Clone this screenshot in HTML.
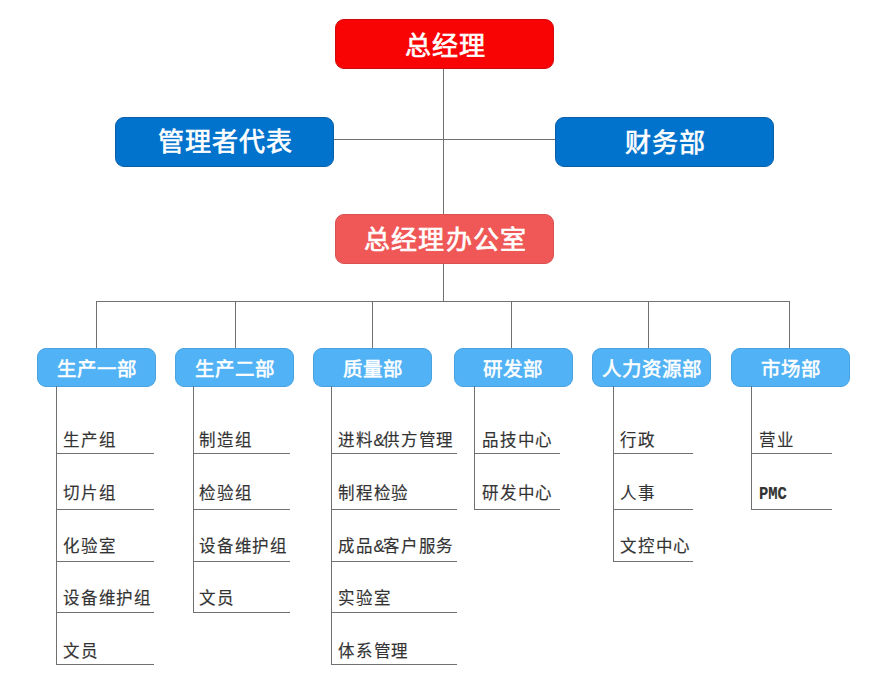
<!DOCTYPE html>
<html lang="zh-CN"><head><meta charset="utf-8">
<style>
html,body{margin:0;padding:0;background:#fff;}
body{width:880px;height:686px;position:relative;overflow:hidden;font-family:"Liberation Sans",sans-serif;}
.l{position:absolute;background:#707070;}
.hb{position:absolute;width:219px;height:49.5px;border-radius:9px;box-sizing:border-box;border:1px solid;color:#fff;font-size:26px;letter-spacing:1.2px;text-indent:2.4px;line-height:47.5px;text-align:center;white-space:nowrap;-webkit-text-stroke:0.65px #fff;}
.hb span,.db span{position:relative;}
.red{background:#f80404;border-color:#d00a0a;}
.blue{background:#0273cc;border-color:#0a5ea8;}
.pink{background:#f05858;border-color:#d85050;}
.db{position:absolute;top:347.5px;width:119px;height:39.5px;border-radius:9px;box-sizing:border-box;border:1px solid #48a2e0;background:#51b2f5;color:#fff;font-size:19.5px;line-height:37.5px;text-align:center;white-space:nowrap;-webkit-text-stroke:0.55px #fff;}
.db span{top:2px;}
.it{position:absolute;font-size:16.5px;letter-spacing:0.75px;line-height:30px;color:#333;white-space:nowrap;-webkit-text-stroke:0.15px #333;}
.it i{font-style:normal;letter-spacing:-1.5px;}
.pmc{font-family:"Liberation Mono",monospace;font-weight:bold;letter-spacing:0;font-size:18px;transform:scaleX(0.86);transform-origin:0 0;}
</style></head><body>
<div class="l" style="left:443px;top:68px;width:1px;height:234px"></div>
<div class="l" style="left:334px;top:139px;width:222px;height:1px"></div>
<div class="l" style="left:96px;top:301px;width:694px;height:1px"></div>
<div class="l" style="left:96px;top:301px;width:1px;height:48px"></div>
<div class="l" style="left:235px;top:301px;width:1px;height:48px"></div>
<div class="l" style="left:372px;top:301px;width:1px;height:48px"></div>
<div class="l" style="left:511px;top:301px;width:1px;height:48px"></div>
<div class="l" style="left:648px;top:301px;width:1px;height:48px"></div>
<div class="l" style="left:789px;top:301px;width:1px;height:48px"></div>
<div class="hb red" style="left:335px;top:19px"><span style="top:3px">总经理</span></div>
<div class="hb blue" style="left:115px;top:117px"><span style="top:1px">管理者代表</span></div>
<div class="hb blue" style="left:555px;top:117px"><span style="top:1.5px">财务部</span></div>
<div class="hb pink" style="left:335px;top:214px"><span style="top:2px">总经理办公室</span></div>
<div class="db" style="left:37px"><span>生产一部</span></div>
<div class="l" style="left:56px;top:386px;width:1px;height:279px"></div>
<div class="l" style="left:56px;top:453px;width:98px;height:1px"></div>
<div class="it" style="left:63px;top:425px">生产组</div>
<div class="l" style="left:56px;top:509px;width:98px;height:1px"></div>
<div class="it" style="left:63px;top:478px">切片组</div>
<div class="l" style="left:56px;top:561px;width:98px;height:1px"></div>
<div class="it" style="left:63px;top:531px">化验室</div>
<div class="l" style="left:56px;top:612px;width:98px;height:1px"></div>
<div class="it" style="left:63px;top:583px">设备维护组</div>
<div class="l" style="left:56px;top:664px;width:98px;height:1px"></div>
<div class="it" style="left:63px;top:636px">文员</div>
<div class="db" style="left:175px"><span>生产二部</span></div>
<div class="l" style="left:193px;top:386px;width:1px;height:227px"></div>
<div class="l" style="left:193px;top:453px;width:97px;height:1px"></div>
<div class="it" style="left:199px;top:425px">制造组</div>
<div class="l" style="left:193px;top:509px;width:97px;height:1px"></div>
<div class="it" style="left:199px;top:478px">检验组</div>
<div class="l" style="left:193px;top:561px;width:97px;height:1px"></div>
<div class="it" style="left:199px;top:531px">设备维护组</div>
<div class="l" style="left:193px;top:612px;width:97px;height:1px"></div>
<div class="it" style="left:199px;top:583px">文员</div>
<div class="db" style="left:313px"><span>质量部</span></div>
<div class="l" style="left:331px;top:386px;width:1px;height:279px"></div>
<div class="l" style="left:331px;top:453px;width:126px;height:1px"></div>
<div class="it" style="left:338px;top:425px">进料<i>&amp;</i>供方管理</div>
<div class="l" style="left:331px;top:509px;width:126px;height:1px"></div>
<div class="it" style="left:338px;top:478px">制程检验</div>
<div class="l" style="left:331px;top:561px;width:126px;height:1px"></div>
<div class="it" style="left:338px;top:531px">成品<i>&amp;</i>客户服务</div>
<div class="l" style="left:331px;top:612px;width:126px;height:1px"></div>
<div class="it" style="left:338px;top:583px">实验室</div>
<div class="l" style="left:331px;top:664px;width:126px;height:1px"></div>
<div class="it" style="left:338px;top:636px">体系管理</div>
<div class="db" style="left:453.5px"><span>研发部</span></div>
<div class="l" style="left:474px;top:386px;width:1px;height:124px"></div>
<div class="l" style="left:474px;top:453px;width:86px;height:1px"></div>
<div class="it" style="left:482px;top:425px">品技中心</div>
<div class="l" style="left:474px;top:509px;width:86px;height:1px"></div>
<div class="it" style="left:482px;top:478px">研发中心</div>
<div class="db" style="left:592px"><span>人力资源部</span></div>
<div class="l" style="left:613px;top:386px;width:1px;height:176px"></div>
<div class="l" style="left:613px;top:453px;width:80px;height:1px"></div>
<div class="it" style="left:620px;top:425px">行政</div>
<div class="l" style="left:613px;top:509px;width:80px;height:1px"></div>
<div class="it" style="left:620px;top:478px">人事</div>
<div class="l" style="left:613px;top:561px;width:80px;height:1px"></div>
<div class="it" style="left:620px;top:531px">文控中心</div>
<div class="db" style="left:731px"><span>市场部</span></div>
<div class="l" style="left:751px;top:386px;width:1px;height:124px"></div>
<div class="l" style="left:751px;top:453px;width:81px;height:1px"></div>
<div class="it" style="left:759px;top:425px">营业</div>
<div class="l" style="left:751px;top:509px;width:81px;height:1px"></div>
<div class="it pmc" style="left:759px;top:479px">PMC</div>
</body></html>
